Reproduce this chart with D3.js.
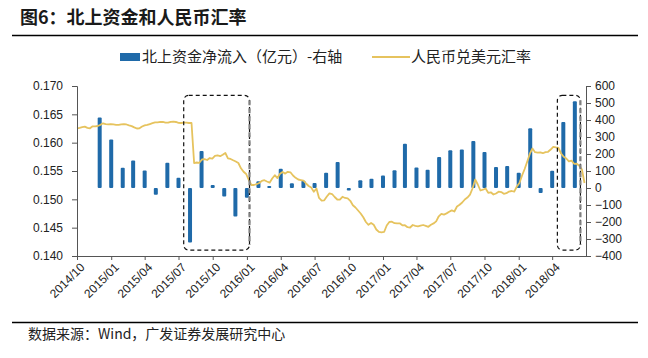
<!DOCTYPE html>
<html>
<head>
<meta charset="utf-8">
<script src="https://cdn.jsdelivr.net/npm/d3@7"></script>
<style>
  body { margin: 0; background: #fff; }
  svg { display: block; }
  .cn { font-family: "Noto Sans CJK SC", sans-serif; }
  .axis text { font-family: "Liberation Sans", Arial, sans-serif; font-size: 12px; fill: #222; }
  .axis path, .axis line { stroke: #555; }
</style>
</head>
<body>
<svg id="chart" width="648" height="358"></svg>
<script>
// Northbound net inflow (100m CNY), monthly, right axis
const flowMonths = [
  "2014-11", "2014-12",
  "2015-01", "2015-02", "2015-03", "2015-04", "2015-05", "2015-06",
  "2015-07", "2015-08", "2015-09", "2015-10", "2015-11", "2015-12",
  "2016-01", "2016-02", "2016-03", "2016-04", "2016-05", "2016-06",
  "2016-07", "2016-08", "2016-09", "2016-10", "2016-11", "2016-12",
  "2017-01", "2017-02", "2017-03", "2017-04", "2017-05", "2017-06",
  "2017-07", "2017-08", "2017-09", "2017-10", "2017-11", "2017-12",
  "2018-01", "2018-02", "2018-03", "2018-04", "2018-05"
];
const flowValues = [
  415, 285,
  119, 162, 103, -40, 149, 60, -320, 217, 18, -50, -167, -57,
  40, 12, 113, 28, 43, 30, 90, 153, -15, 45, 55, 73,
  104, 261, 120, 108, 182, 222, 226, 276, 212, 124, 129, 90,
  351, -29, 102, 388, 510
];

// CNY/USD rate, weekly readings starting 2014-10-01, left axis
const rateStart = "2014-10-01";
const rateValues = [
  0.16254, 0.16262, 0.16273, 0.16282, 0.16262, 0.16254, 0.16289, 0.16287, 0.16294, 0.16315,
  0.16342, 0.16326, 0.16324, 0.16329, 0.16322, 0.16315, 0.16315, 0.16324, 0.16328, 0.16321,
  0.16305, 0.16292, 0.16269, 0.16250, 0.16254, 0.16285, 0.16305, 0.16314, 0.16329, 0.16345,
  0.16358, 0.16359, 0.16366, 0.16365, 0.16354, 0.16352, 0.16368, 0.16370, 0.16365, 0.16351,
  0.16347, 0.16354, 0.16352, 0.16347, 0.16347,
  0.15641, 0.15650, 0.15645, 0.15703, 0.15708, 0.15694, 0.15729, 0.15719, 0.15765, 0.15774,
  0.15761, 0.15786, 0.15818, 0.15724, 0.15712, 0.15689, 0.15668, 0.15641, 0.15548, 0.15486,
  0.15447,
  0.15341, 0.15253, 0.15253, 0.15267, 0.15288, 0.15324, 0.15338, 0.15315, 0.15294, 0.15368,
  0.15426, 0.15376, 0.15451, 0.15482, 0.15454, 0.15486, 0.15477, 0.15421, 0.15380, 0.15350,
  0.15341, 0.15332, 0.15279, 0.15235, 0.15207, 0.15133, 0.15191, 0.15024, 0.14979, 0.14983,
  0.15050, 0.15106, 0.15094, 0.15041, 0.14997, 0.14994, 0.15045, 0.15024, 0.15018, 0.14974,
  0.14896, 0.14856, 0.14803, 0.14750, 0.14683, 0.14600, 0.14551, 0.14582, 0.14551, 0.14468,
  0.14424, 0.14416, 0.14424, 0.14538, 0.14600, 0.14605, 0.14579, 0.14574, 0.14577, 0.14542,
  0.14544, 0.14508, 0.14503, 0.14547, 0.14533, 0.14524, 0.14535, 0.14547, 0.14533, 0.14515,
  0.14552, 0.14575, 0.14611, 0.14701, 0.14745, 0.14731, 0.14752, 0.14780, 0.14805, 0.14785,
  0.14874, 0.14904, 0.14944, 0.14997, 0.15032, 0.15082, 0.15195, 0.15350, 0.15262, 0.15156,
  0.15170, 0.15191, 0.15115, 0.15124, 0.15085, 0.15103, 0.15135, 0.15129, 0.15098, 0.15108,
  0.15138, 0.15147, 0.15135, 0.15226, 0.15288, 0.15421, 0.15535, 0.15668, 0.15805, 0.15897,
  0.15832, 0.15823, 0.15828, 0.15814, 0.15834, 0.15839, 0.15879, 0.15927, 0.15915, 0.15906,
  0.15809, 0.15751, 0.15721, 0.15669, 0.15683, 0.15627, 0.15629, 0.15594, 0.15526, 0.15288
];

const xTickLabels = [
  "2014/10", "2015/01", "2015/04", "2015/07", "2015/10", "2016/01", "2016/04", "2016/07",
  "2016/10", "2017/01", "2017/04", "2017/07", "2017/10", "2018/01", "2018/04"
];
const leftTicks = [0.140, 0.145, 0.150, 0.155, 0.160, 0.165, 0.170];
const rightTicks = [-400, -300, -200, -100, 0, 100, 200, 300, 400, 500, 600];

// dashed highlight boxes (dates, right-axis units)
const boxFrom = ["2015-07-15", "2018-04-15"];
const boxTo = ["2016-01-08", "2018-06-16"];
const boxTop = 545, boxBottom = -365;

const barColor = "#1f6aa9";
const lineColor = "#e6c35e";

const svg = d3.select("#chart");
const plotL = 77, plotR = 586, plotT = 86, plotB = 256;

const parseDay = d3.timeParse("%Y-%m-%d");
const parseMonth = d3.timeParse("%Y-%m");
const parseTick = d3.timeParse("%Y/%m");

const x = d3.scaleTime()
  .domain([parseDay("2014-10-01"), parseDay("2018-07-01")])
  .range([plotL, plotR]);
const yL = d3.scaleLinear().domain([0.14, 0.17]).range([plotB, plotT]);
const yR = d3.scaleLinear().domain([-400, 600]).range([plotB, plotT]);

// title + rules
svg.append("text").attr("class", "cn")
  .attr("x", 20).attr("y", 24)
  .attr("font-size", 18).attr("font-weight", "bold").attr("fill", "#1a1a1a")
  .text("图6：北上资金和人民币汇率");
svg.append("line").attr("x1", 12).attr("x2", 638).attr("y1", 35.5).attr("y2", 35.5)
  .attr("stroke", "#000").attr("stroke-width", 1.5);
svg.append("line").attr("x1", 12).attr("x2", 638).attr("y1", 322.5).attr("y2", 322.5)
  .attr("stroke", "#000").attr("stroke-width", 1.5);
svg.append("text").attr("class", "cn")
  .attr("x", 28).attr("y", 339)
  .attr("font-size", 14).attr("fill", "#222")
  .text("数据来源：Wind，广发证券发展研究中心");

// legend
const lg = svg.append("g");
lg.append("rect").attr("x", 120).attr("y", 53).attr("width", 20).attr("height", 8).attr("fill", barColor);
lg.append("text").attr("class", "cn").attr("x", 142).attr("y", 62)
  .attr("font-size", 15).attr("fill", "#222").text("北上资金净流入（亿元）-右轴");
lg.append("line").attr("x1", 372).attr("x2", 410).attr("y1", 57).attr("y2", 57)
  .attr("stroke", lineColor).attr("stroke-width", 2);
lg.append("text").attr("class", "cn").attr("x", 411).attr("y", 62)
  .attr("font-size", 15).attr("fill", "#222").text("人民币兑美元汇率");

// bars (monthly totals sit at month end)
const barW = 4;
svg.append("g").selectAll("rect")
  .data(flowMonths.map((m, i) => ({ date: d3.timeMonth.offset(parseMonth(m), 1), v: flowValues[i] })))
  .join("rect")
  .attr("x", d => x(d.date) - barW / 2)
  .attr("y", d => Math.min(yR(d.v), yR(0)))
  .attr("width", barW)
  .attr("height", d => Math.abs(yR(d.v) - yR(0)))
  .attr("rx", 1)
  .attr("fill", barColor);

// rate line
const start = parseDay(rateStart);
const rate = rateValues.map((v, i) => ({ date: d3.timeDay.offset(start, 7 * i), v }));
svg.append("path")
  .datum(rate)
  .attr("fill", "none")
  .attr("stroke", lineColor)
  .attr("stroke-width", 1.8)
  .attr("stroke-linejoin", "round")
  .attr("d", d3.line().x(d => x(d.date)).y(d => yL(d.v)));

// axes
const xAxis = svg.append("g").attr("class", "axis")
  .attr("transform", `translate(0,${plotB})`)
  .call(d3.axisBottom(x)
    .tickValues(xTickLabels.map(parseTick))
    .tickSize(4)
    .tickFormat(d3.timeFormat("%Y/%m")));
xAxis.select(".domain").attr("d", `M${plotL},0.5H${plotR}`);
xAxis.selectAll("text")
  .attr("text-anchor", "end")
  .attr("font-size", 12.5)
  .attr("transform", "translate(5,9) rotate(-45)")
  .attr("dx", 0).attr("dy", "0.35em").attr("y", 0).attr("x", 0);

svg.append("g").attr("class", "axis")
  .attr("transform", `translate(${plotL},0)`)
  .call(d3.axisLeft(yL).tickValues(leftTicks).tickSize(5).tickPadding(9).tickFormat(d3.format(".3f")));

svg.append("g").attr("class", "axis")
  .attr("transform", `translate(${plotR},0)`)
  .call(d3.axisRight(yR).tickValues(rightTicks).tickSize(5).tickPadding(4));

// highlight boxes
boxFrom.forEach((f, i) => {
  const x0 = x(parseDay(f)), x1 = x(parseDay(boxTo[i]));
  const y0 = yR(boxTop), y1 = yR(boxBottom);
  svg.append("rect")
    .attr("x", x0).attr("y", y0).attr("width", x1 - x0).attr("height", y1 - y0)
    .attr("rx", 5)
    .attr("fill", "none").attr("stroke", "#111").attr("stroke-width", 1.2)
    .attr("stroke-dasharray", "4,3");
  svg.append("line")
    .attr("x1", x1).attr("x2", x1).attr("y1", y0 + 5).attr("y2", y1 - 5)
    .attr("stroke", "#808080").attr("stroke-width", 2.2)
    .attr("stroke-dasharray", "5,3");
});
</script>
</body>
</html>
